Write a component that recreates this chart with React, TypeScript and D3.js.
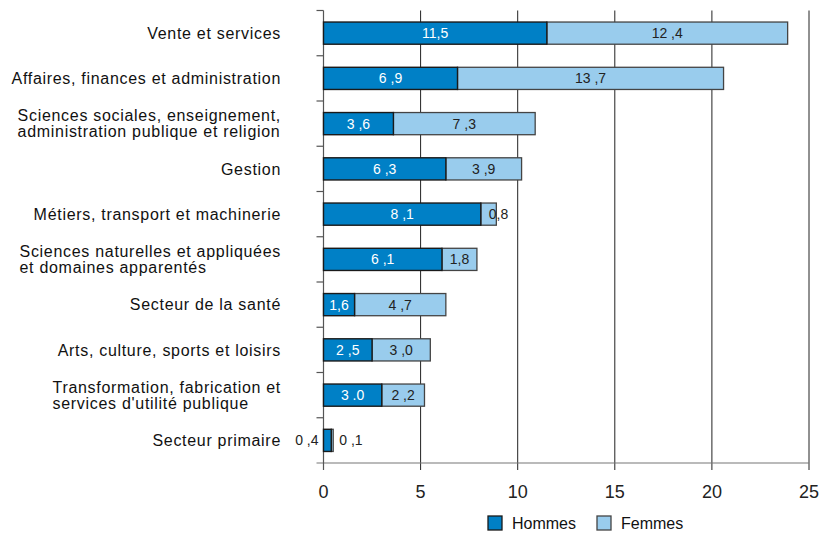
import { useEffect, useRef } from 'react';
import * as d3 from 'd3';

// Data
const categories = [
  ['Vente et services'],
  ['Affaires, finances et administration'],
  ['Sciences sociales, enseignement,', 'administration publique et religion'],
  ['Gestion'],
  ['Métiers, transport et machinerie'],
  ['Sciences naturelles et appliquées', 'et domaines apparentés'],
  ['Secteur de la santé'],
  ['Arts, culture, sports et loisirs'],
  ['Transformation, fabrication et', "services d'utilité publique"],
  ['Secteur primaire'],
];
const hommes = [11.5, 6.9, 3.6, 6.3, 8.1, 6.1, 1.6, 2.5, 3.0, 0.4];
const femmes = [12.4, 13.7, 7.3, 3.9, 0.8, 1.8, 4.7, 3.0, 2.2, 0.1];
const hommesLabels = ['11,5', '6 ,9', '3 ,6', '6 ,3', '8 ,1', '6 ,1', '1,6', '2 ,5', '3 .0', '0 ,4'];
const femmesLabels = ['12 ,4', '13 ,7', '7 ,3', '3 ,9', '0,8', '1,8', '4 ,7', '3 ,0', '2 ,2', '0 ,1'];
const xTicks = [0, 5, 10, 15, 20, 25];
const seriesNames = ['Hommes', 'Femmes'];

function App() {
  const ref = useRef<SVGSVGElement>(null);

  const width = 830;
  const height = 535;
  const margin = { left: 323.5, right: 21, top: 10.5, bottom: 72 };
  const darkBlue = '#0080c6';
  const lightBlue = '#99cced';
  const font = 'Liberation Sans, Arial, sans-serif';

  useEffect(() => {
    const svg = d3.select(ref.current);
    svg.selectAll('*').remove();

    const x = d3.scaleLinear().domain([0, 25]).range([margin.left, width - margin.right]);
    const y = d3
      .scaleBand()
      .domain(categories.map((_, i) => String(i)))
      .range([margin.top, height - margin.bottom])
      .paddingInner(0.51)
      .paddingOuter(0.255);
    const yBottom = height - margin.bottom;

    // Vertical grid lines
    svg
      .append('g')
      .selectAll('line')
      .data(xTicks.slice(1))
      .join('line')
      .attr('x1', (d) => x(d))
      .attr('x2', (d) => x(d))
      .attr('y1', margin.top)
      .attr('y2', yBottom + 7)
      .attr('stroke', '#222')
      .attr('stroke-width', 1);

    // bottom axis line
    svg
      .append('line')
      .attr('x1', margin.left - 7)
      .attr('x2', x(25))
      .attr('y1', yBottom)
      .attr('y2', yBottom)
      .attr('stroke', '#777')
      .attr('stroke-width', 1.2);

    // left axis + ticks between categories
    svg
      .append('line')
      .attr('x1', margin.left)
      .attr('x2', margin.left)
      .attr('y1', margin.top)
      .attr('y2', yBottom + 7)
      .attr('stroke', '#555')
      .attr('stroke-width', 1.2);

    const step = y.step();
    svg
      .append('g')
      .selectAll('line')
      .data(d3.range(categories.length))
      .join('line')
      .attr('x1', margin.left - 7)
      .attr('x2', margin.left)
      .attr('y1', (i) => margin.top + i * step)
      .attr('y2', (i) => margin.top + i * step)
      .attr('stroke', '#555')
      .attr('stroke-width', 1.2);

    // x tick labels
    svg
      .append('g')
      .selectAll('text')
      .data(xTicks)
      .join('text')
      .attr('x', (d) => x(d))
      .attr('y', yBottom + 35)
      .attr('text-anchor', 'middle')
      .attr('font-family', font)
      .attr('font-size', 18)
      .attr('fill', '#222')
      .text((d) => d);

    // Bars
    const rows = svg
      .append('g')
      .selectAll('g')
      .data(categories.map((c, i) => ({ i, c, h: hommes[i], f: femmes[i] })))
      .join('g')
      .attr('transform', (d) => `translate(0, ${y(String(d.i))})`);

    const bh = y.bandwidth();

    rows
      .append('rect')
      .attr('x', (d) => x(d.h))
      .attr('y', 0)
      .attr('width', (d) => x(d.h + d.f) - x(d.h))
      .attr('height', bh)
      .attr('fill', lightBlue)
      .attr('stroke', '#444')
      .attr('stroke-width', 1.3);

    rows
      .append('rect')
      .attr('x', x(0))
      .attr('y', 0)
      .attr('width', (d) => x(d.h) - x(0))
      .attr('height', bh)
      .attr('fill', darkBlue)
      .attr('stroke', '#1a1a1a')
      .attr('stroke-width', 1.4);

    // Value labels
    rows
      .append('text')
      .attr('x', (d) => (x(d.h) - x(0) < 20 ? x(0) - 5 : (x(0) + x(d.h)) / 2))
      .attr('y', bh / 2)
      .attr('dy', '0.36em')
      .attr('text-anchor', (d) => (x(d.h) - x(0) < 20 ? 'end' : 'middle'))
      .attr('font-family', font)
      .attr('font-size', 14)
      .attr('fill', (d) => (x(d.h) - x(0) < 20 ? '#222' : '#fff'))
      .text((d) => hommesLabels[d.i]);

    rows
      .append('text')
      .attr('x', (d) => {
        const w = x(d.h + d.f) - x(d.h);
        return w < 20 ? x(d.h) + 8 : (x(d.h) + x(d.h + d.f)) / 2;
      })
      .attr('y', bh / 2)
      .attr('dy', '0.36em')
      .attr('text-anchor', (d) => (x(d.h + d.f) - x(d.h) < 20 ? 'start' : 'middle'))
      .attr('font-family', font)
      .attr('font-size', 14)
      .attr('fill', '#222')
      .text((d) => femmesLabels[d.i]);

    // Category labels
    const labelRight = 281;
    const labels = svg
      .append('g')
      .selectAll('text')
      .data(categories.map((c, i) => ({ c, i })))
      .join('text')
      .attr('font-family', font)
      .attr('font-size', 16)
      .attr('letter-spacing', 0.7)
      .attr('fill', '#111');

    labels.each(function (d) {
      const t = d3.select(this);
      const cy = (y(String(d.i)) as number) + bh / 2;
      if (d.c.length === 1) {
        t.attr('x', labelRight).attr('y', cy).attr('dy', '0.36em').attr('text-anchor', 'end').text(d.c[0]);
      } else {
        const spans = d.c.map((line, k) =>
          t
            .append('tspan')
            .attr('y', cy + (k - (d.c.length - 1) / 2) * 16)
            .attr('dy', '0.36em')
            .text(line)
        );
        const maxW = d3.max(spans.map((s) => (s.node() as SVGTSpanElement).getComputedTextLength())) ?? 0;
        spans.forEach((s) => s.attr('x', labelRight - maxW));
      }
    });

    // Legend
    const legend = svg
      .append('g')
      .selectAll('g')
      .data(seriesNames)
      .join('g')
      .attr('transform', (_, i) => `translate(${i === 0 ? 488 : 597}, 516)`);
    legend
      .append('rect')
      .attr('width', 14)
      .attr('height', 14)
      .attr('fill', (_, i) => (i === 0 ? darkBlue : lightBlue))
      .attr('stroke', (_, i) => (i === 0 ? '#1a1a1a' : '#444'))
      .attr('stroke-width', 1.3);
    legend
      .append('text')
      .attr('x', 24)
      .attr('y', 7)
      .attr('dy', '0.36em')
      .attr('font-family', font)
      .attr('font-size', 16)
      .attr('fill', '#111')
      .text((d) => d);
  }, [ref]);

  return (
    <div>
      <svg
        ref={ref}
        width={width}
        height={height}
        style={{ position: 'absolute', left: 0, top: 0, background: '#fff' }}
      />
    </div>
  );
}

export default App;
